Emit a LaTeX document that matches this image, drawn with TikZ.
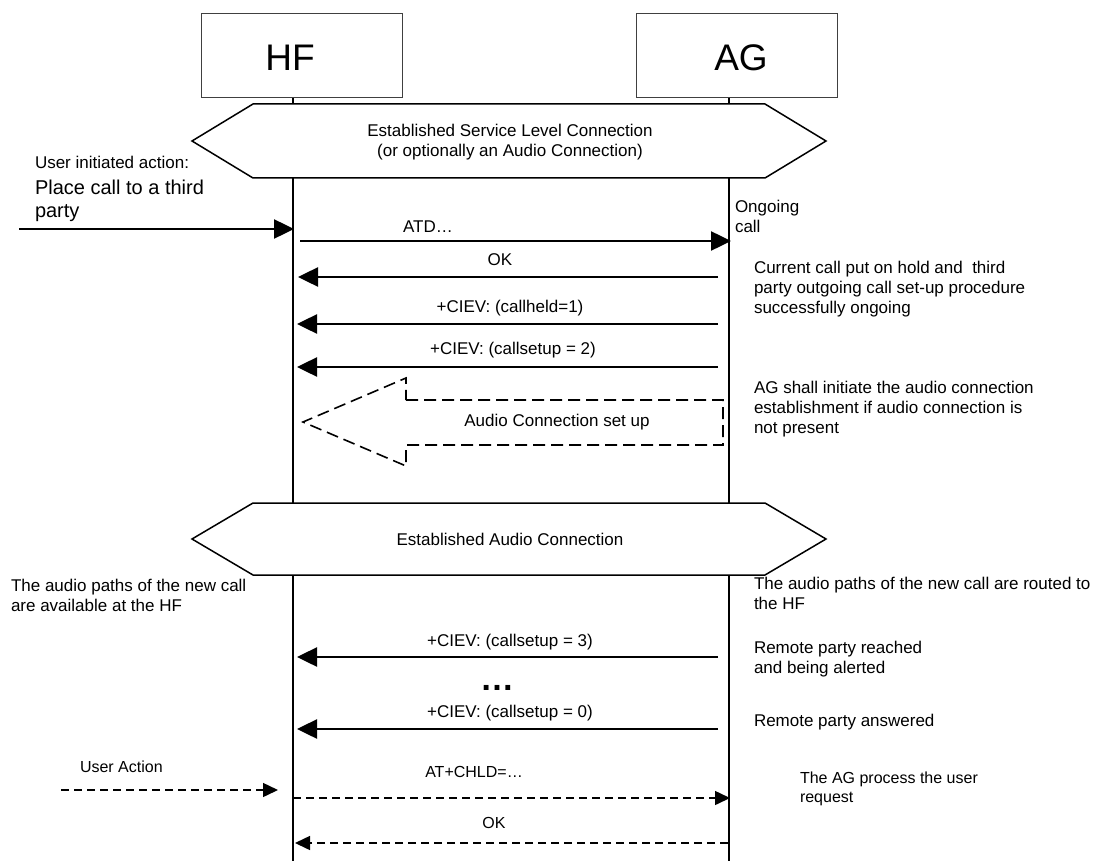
\documentclass[tikz,border=0pt]{standalone}
\usepackage{fontspec}
\setmainfont{Liberation Sans}
\usetikzlibrary{arrows.meta}
\begin{document}
\begin{tikzpicture}[x=1pt,y=-1pt,
  every node/.style={inner sep=0pt, outer sep=0pt},
  lbl/.style={font=\fontsize{17}{20}\selectfont},
  sml/.style={font=\fontsize{16}{19}\selectfont},
  note/.style={lbl, anchor=west, align=left},
  snote/.style={sml, anchor=west, align=left},
  entity/.style={draw=black!75, line width=1pt, minimum width=201pt, minimum height=84pt},
  big/.style={font=\fontsize{37}{42}\selectfont},
  lifeline/.style={line width=2pt},
  phase/.style={draw, line width=1.5pt, fill=white, line join=miter},
  msg/.style={line width=2.5pt, -{Triangle[length=20pt,width=19pt]}},
  dmsg/.style={line width=1.5pt, dash pattern=on 8pt off 5pt, -{Triangle[length=15pt,width=14pt]}},
  fatdash/.style={line width=1.6pt, dash pattern=on 12pt off 6pt},
]
\useasboundingbox (0,0) rectangle (1099,861);

% entities
\node[entity] (hfbox) at (301.5,56) {};
\node[entity] (agbox) at (737,56) {};
\node[big] (hflbl) at (290,58) {HF};
\node[big] (aglbl) at (741,58) {AG};

% lifelines
\coordinate (hftop) at (293,98);
\coordinate (hfbot) at (293,861);
\coordinate (agtop) at (729,98);
\coordinate (agbot) at (729,861);
\draw[lifeline] (hftop) -- (hfbot);
\draw[lifeline] (agtop) -- (agbot);

% phase hexagons
\draw[phase] (192,141) -- (253,104) -- (765,104) -- (826,141) -- (765,178) -- (253,178) -- cycle;
\node[lbl, align=center] (slc) at (510,142.5) {Established Service Level Connection\\(or optionally an Audio Connection)};
\draw[phase] (192,539) -- (253,503) -- (765,503) -- (826,539) -- (765,575) -- (253,575) -- cycle;
\node[lbl] (eac) at (510,539) {Established Audio Connection};

% user initiated action
\node[note] (uia) at (35,162) {User initiated action:};
\node[anchor=west, align=left, font=\fontsize{20}{23}\selectfont] (pcall) at (35,200.5) {Place call to a third\\party};
\coordinate (uS) at (19,229);
\coordinate (uE) at (294,229);
\draw[msg] (uS) -- (uE);

% ATD
\node[lbl] (atdl) at (428,227) {ATD…};
\coordinate (atdS) at (300,241);
\coordinate (atdE) at (731,241);
\draw[msg] (atdS) -- (atdE);
\node[note] (ongo) at (735,216) {Ongoing\\call};

% OK
\node[lbl] (ok1l) at (500,260) {OK};
\coordinate (ok1S) at (718,277);
\coordinate (ok1E) at (298,277);
\draw[msg] (ok1S) -- (ok1E);

% callheld
\node[lbl] (chl) at (510,308) {+CIEV: (callheld=1)};
\coordinate (chS) at (718,324);
\coordinate (chE) at (297,324);
\draw[msg] (chS) -- (chE);

% callsetup 2
\node[lbl] (cs2l) at (513,350) {+CIEV: (callsetup = 2)};
\coordinate (cs2S) at (718,367);
\coordinate (cs2E) at (297,367);
\draw[msg] (cs2S) -- (cs2E);

\node[note] (hold) at (754,289) {Current call put on hold and\ \ third\\party outgoing call set-up procedure\\successfully ongoing};

% audio connection set up
\draw[fatdash] (406,400) -- (723,400) -- (723,445) -- (406,445) -- (406,466) -- (303,422) -- (406,378) -- cycle;
\node[lbl] (acsu) at (557,422) {Audio Connection set up};
\node[note] (agsh) at (754,409) {AG shall initiate the audio connection\\establishment if audio connection is\\not present};

% audio paths
\node[note] (aphf) at (11,595.5) {The audio paths of the new call\\are available at the HF};
\node[note] (apag) at (754,593) {The audio paths of the new call are routed to\\the HF};

% callsetup 3
\node[lbl] (cs3l) at (510,642) {+CIEV: (callsetup = 3)};
\coordinate (cs3S) at (718,657);
\coordinate (cs3E) at (297,657);
\draw[msg] (cs3S) -- (cs3E);
\node[note] (rpr) at (754,659) {Remote party reached\\and being alerted};

\node[font=\bfseries\fontsize{34}{34}\selectfont] (dots) at (497,688) {…};

% callsetup 0
\node[lbl] (cs0l) at (510,713) {+CIEV: (callsetup = 0)};
\coordinate (cs0S) at (718,729);
\coordinate (cs0E) at (297,729);
\draw[msg] (cs0S) -- (cs0E);
\node[note] (rpa) at (754,722) {Remote party answered};

% user action
\node[snote] (ua) at (80,767) {User Action};
\coordinate (uaS) at (61,790);
\coordinate (uaE) at (278,790);
\draw[dmsg] (uaS) -- (uaE);

\node[sml] (chld) at (474,772) {AT+CHLD=…};
\coordinate (chldS) at (293,798);
\coordinate (chldE) at (730,798);
\draw[dmsg] (chldS) -- (chldE);
\node[snote] (proc) at (800,788.5) {The AG process the user\\request};

\node[sml] (ok2l) at (494,823) {OK};
\coordinate (ok2S) at (728,843);
\coordinate (ok2E) at (295,843);
\draw[dmsg] (ok2S) -- (ok2E);

\end{tikzpicture}
\end{document}
